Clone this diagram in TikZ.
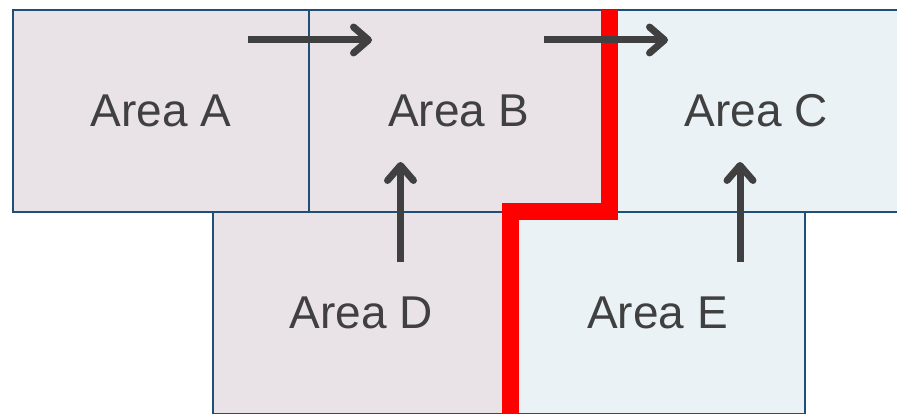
\documentclass[tikz,border=0pt]{standalone}
\usepackage{fontspec}
\setmainfont{Liberation Sans}
\usetikzlibrary{arrows.meta}
\definecolor{pinkfill}{HTML}{E9E3E7}
\definecolor{bluefill}{HTML}{EBF2F6}
\definecolor{edgeblue}{HTML}{1F4E79}
\definecolor{arrowgray}{HTML}{404040}
\definecolor{txtgray}{HTML}{404040}
\tikzset{
  area/.style={draw=edgeblue, line width=2.5pt, rectangle, inner sep=0pt, outer sep=0pt,
    minimum height=202pt, text=txtgray, font=\fontsize{46}{52}\selectfont},
  pinkarea/.style={area, fill=pinkfill},
  bluearea/.style={area, fill=bluefill},
  flowarrow/.style={draw=arrowgray, line width=7pt,
    -{Straight Barb[length=15pt, width=26pt, round]}},
  redline/.style={draw=red, line width=17pt, line join=miter}
}
\begin{document}
\begin{tikzpicture}[x=1pt,y=-1pt]
\useasboundingbox (0,0) rectangle (897,414);
\clip (0,0) rectangle (897,414);
\node[pinkarea, minimum width=296pt] (A) at (161,111) {Area A};
\node[pinkarea, minimum width=299pt] (B) at (458.5,111) {Area B};
\node[bluearea, minimum width=297pt] (C) at (756.5,111) {Area C};
\node[pinkarea, minimum width=297pt] (D) at (361.5,313) {\raisebox{-2pt}{Area D}};
\node[bluearea, minimum width=295pt] (E) at (657.5,313) {\raisebox{-2pt}{Area E}};
% red boundary
\coordinate (r1) at (609,10);
\coordinate (r2) at (609,212);
\coordinate (r3) at (510.5,212);
\coordinate (r4) at (510.5,420);
\draw[redline] (r1) -- (r2) -- (r3) -- (r4);
% arrows
\coordinate (a1s) at (248,40);
\coordinate (a1e) at (372,40);
\coordinate (a2s) at (544,40);
\coordinate (a2e) at (668,40);
\coordinate (a3s) at (400.5,262);
\coordinate (a3e) at (400.5,162);
\coordinate (a4s) at (740,262);
\coordinate (a4e) at (740,162);
\draw[flowarrow] (a1s) -- (a1e);
\draw[flowarrow] (a2s) -- (a2e);
\draw[flowarrow] (a3s) -- (a3e);
\draw[flowarrow] (a4s) -- (a4e);
\end{tikzpicture}
\end{document}
